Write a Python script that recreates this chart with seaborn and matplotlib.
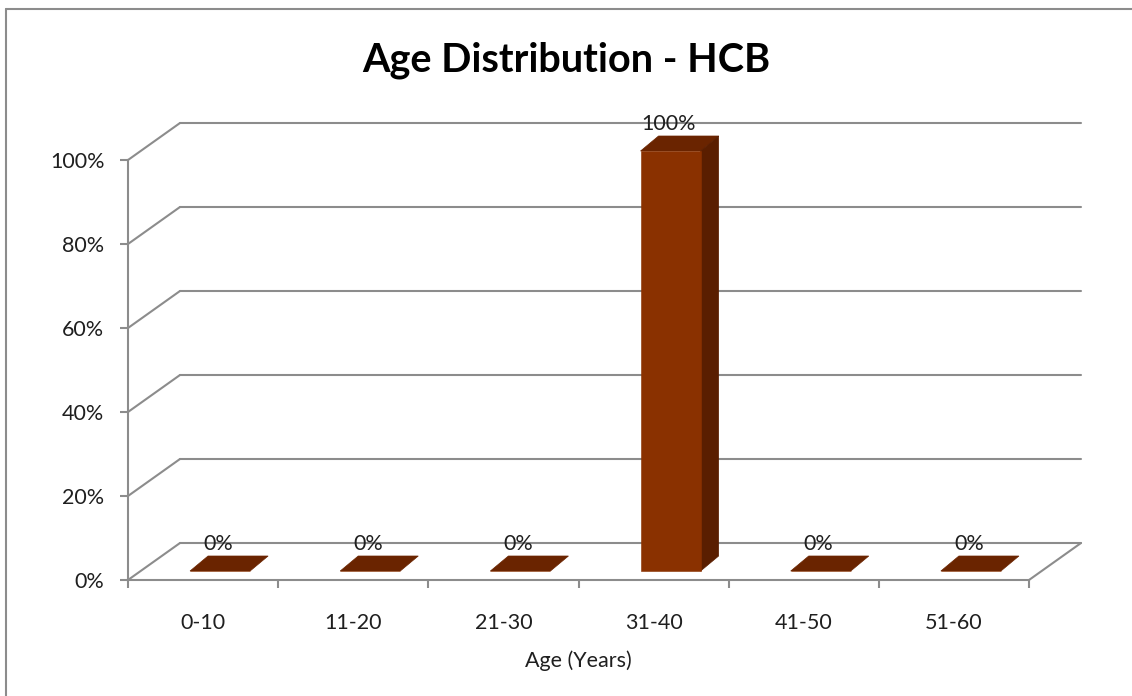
import matplotlib
matplotlib.use("Agg")
import matplotlib.pyplot as plt
from matplotlib.patches import Polygon
from matplotlib.lines import Line2D
from matplotlib.ticker import FixedLocator
import seaborn as sns

# Data
age_groups = ["0-10", "11-20", "21-30", "31-40", "41-50", "51-60"]
share_pct = [0, 0, 0, 100, 0, 0]
y_ticks = [0, 20, 40, 60, 80, 100]
y_tick_labels = ["0%", "20%", "40%", "60%", "80%", "100%"]

sns.set_style("white")
plt.rcParams["font.family"] = ["Lato", "DejaVu Sans"]

W, H, DPI = 1132, 696, 100
fig = plt.figure(figsize=(W / DPI, H / DPI), dpi=DPI)

# front plane of the 3D box, in pixels
ax_l, ax_r, ax_b, ax_t = 128, 1029, 580, 160
ax = fig.add_axes([ax_l / W, 1 - ax_b / H, (ax_r - ax_l) / W, (ax_b - ax_t) / H])

px_per_cat = (ax_r - ax_l) / len(age_groups)
px_per_pct = (ax_b - ax_t) / 100.0

# oblique offsets (walls and bars)
WALL_DX, WALL_DY = 52 / px_per_cat, 37 / px_per_pct
BAR_DX0, BAR_DY0 = 17 / px_per_cat, 9 / px_per_pct
BAR_DDX, BAR_DDY = 18 / px_per_cat, 15 / px_per_pct

grid_c = "#8c8c8c"
front_c = "#8a3100"
side_c = "#5a1e00"
top_c = "#6a2400"
text_c = "#1f1f1f"
FS = 15.5

sns.barplot(x=age_groups, y=share_pct, width=0.4, color=front_c,
            saturation=1, ax=ax, zorder=3, linewidth=0, edgecolor="none")
ax.set_xlim(-0.5, len(age_groups) - 0.5)
ax.set_ylim(0, 100)

# back wall gridlines and side-wall diagonals
x0, x1 = -0.5, len(age_groups) - 0.5
for v in y_ticks:
    ax.plot([x0 + WALL_DX, x1 + WALL_DX], [v + WALL_DY, v + WALL_DY],
            color=grid_c, lw=1.5, clip_on=False, zorder=1)
    ax.plot([x0, x0 + WALL_DX], [v, v + WALL_DY],
            color=grid_c, lw=1.5, clip_on=False, zorder=1)
ax.plot([x1, x1 + WALL_DX], [0, WALL_DY], color=grid_c, lw=1.5,
        clip_on=False, zorder=1)

# give each bar depth: shift front face, add top and side faces
for patch, val in zip(ax.patches, share_pct):
    bx = patch.get_x() + BAR_DX0
    bw = patch.get_width()
    by = BAR_DY0
    patch.set_x(bx)
    patch.set_y(by)
    patch.set_height(val)
    patch.set_edgecolor(front_c)
    patch.set_linewidth(0.4)
    patch.set_clip_on(False)
    patch.set_zorder(3.2)
    top = by + val
    ax.add_patch(Polygon([(bx, top), (bx + bw, top),
                          (bx + bw + BAR_DDX, top + BAR_DDY),
                          (bx + BAR_DDX, top + BAR_DDY)],
                         closed=True, facecolor=top_c, edgecolor=top_c,
                         linewidth=0.5, zorder=3, clip_on=False))
    if val > 0:
        ax.add_patch(Polygon([(bx + bw, by), (bx + bw + BAR_DDX, by + BAR_DDY),
                              (bx + bw + BAR_DDX, top + BAR_DDY), (bx + bw, top)],
                             closed=True, facecolor=side_c, edgecolor=side_c,
                             linewidth=0.5, zorder=3, clip_on=False))
    ax.text(bx + bw / 2 - 2 / px_per_cat, top + BAR_DDY + 2 / px_per_pct,
            f"{val:.0f}%", ha="center", va="bottom", fontsize=FS,
            color=text_c, zorder=5, clip_on=False)

# axes styling
for s in ["top", "right"]:
    ax.spines[s].set_visible(False)
for s in ["left", "bottom"]:
    ax.spines[s].set_color(grid_c)
    ax.spines[s].set_linewidth(1.5)
    ax.spines[s].set_zorder(4)

ax.set_yticks(y_ticks)
ax.set_yticklabels(y_tick_labels)
ax.tick_params(axis="y", length=6, width=1.5, color=grid_c, pad=11,
               labelsize=FS, labelcolor=text_c, left=True)

ax.set_xticks(range(len(age_groups)))
ax.set_xticklabels(age_groups)
ax.xaxis.set_minor_locator(FixedLocator([i - 0.5 for i in range(len(age_groups) + 1)]))
ax.tick_params(axis="x", which="major", length=0, pad=24,
               labelsize=FS, labelcolor=text_c)
ax.tick_params(axis="x", which="minor", length=6, width=1.5, color=grid_c,
               bottom=True)
ax.set_xlabel("Age (Years)", fontsize=FS, color=text_c, labelpad=12)
ax.set_ylabel("")

fig.text(0.5, 1 - 60 / H, "Age Distribution - HCB", ha="center", va="center",
         fontsize=28.5, fontweight="bold", color="black")

# chart frame (left and top edges)
fig.add_artist(Line2D([6 / W, 6 / W], [0, 1 - 9 / H], transform=fig.transFigure,
                      color=grid_c, lw=1.5))
fig.add_artist(Line2D([6 / W, 1], [1 - 9 / H, 1 - 9 / H], transform=fig.transFigure,
                      color=grid_c, lw=1.5))

fig.savefig("out.png", dpi=DPI, facecolor="white")
